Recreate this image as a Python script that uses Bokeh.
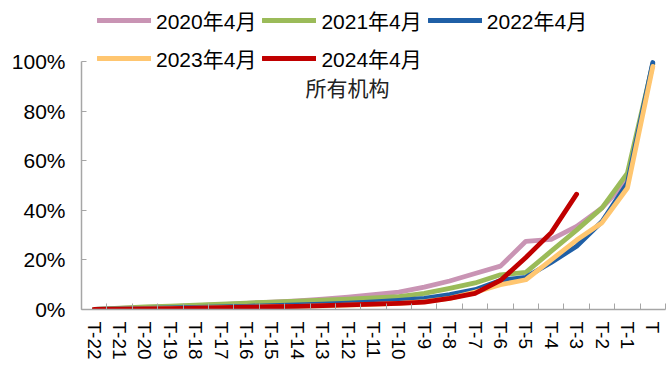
from bokeh.plotting import figure
from bokeh.models import (FixedTicker, NumeralTickFormatter, Legend, LegendItem, Label, Range1d)
from bokeh.embed import file_html
from bokeh.resources import INLINE

categories = ["T-22", "T-21", "T-20", "T-19", "T-18", "T-17", "T-16", "T-15", "T-14", "T-13",
              "T-12", "T-11", "T-10", "T-9", "T-8", "T-7", "T-6", "T-5", "T-4", "T-3",
              "T-2", "T-1", "T"]

s2020 = [0, 0.004, 0.008, 0.012, 0.016, 0.02, 0.025, 0.03, 0.035, 0.042, 0.05, 0.06, 0.07,
         0.09, 0.115, 0.145, 0.175, 0.275, 0.283, 0.335, 0.41, 0.52, 0.99]
s2021 = [0, 0.005, 0.01, 0.014, 0.018, 0.022, 0.026, 0.03, 0.034, 0.038, 0.042, 0.047, 0.052,
         0.065, 0.085, 0.107, 0.14, 0.15, 0.235, 0.32, 0.41, 0.55, 0.99]
s2022 = [0, 0.002, 0.004, 0.006, 0.008, 0.01, 0.013, 0.016, 0.019, 0.022, 0.026, 0.031, 0.037,
         0.045, 0.06, 0.08, 0.117, 0.13, 0.19, 0.255, 0.355, 0.51, 0.996]
s2023 = [0, 0.001, 0.002, 0.003, 0.005, 0.007, 0.009, 0.011, 0.013, 0.015, 0.018, 0.021, 0.025,
         0.032, 0.045, 0.07, 0.1, 0.12, 0.2, 0.28, 0.35, 0.49, 0.98]
s2024 = [0, 0.001, 0.002, 0.003, 0.005, 0.007, 0.009, 0.011, 0.013, 0.016, 0.019, 0.022, 0.025,
         0.03, 0.045, 0.065, 0.117, 0.21, 0.31, 0.465]

series_names = ["2020年4月", "2021年4月", "2022年4月", "2023年4月", "2024年4月"]
series_values = [s2020, s2021, s2022, s2023, s2024]
colors = ["#C994B4", "#9BBB59", "#1F5FA6", "#FFC670", "#C00000"]

y_ticks = [0, 0.2, 0.4, 0.6, 0.8, 1.0]
title_text = "所有机构"

FONT = "'Liberation Sans', 'Noto Sans CJK SC', sans-serif"

p = figure(width=670, height=367, output_backend="svg", toolbar_location=None,
           x_range=Range1d(-0.5, 22.5), y_range=Range1d(0, 1.246),
           min_border_left=81, min_border_right=5, min_border_top=0, min_border_bottom=58)
p.outline_line_color = None
p.xgrid.visible = False
p.ygrid.visible = False
p.background_fill_color = "white"
p.border_fill_color = "white"

renderers = []
for name, vals, c in zip(series_names, series_values, colors):
    xs = list(range(len(vals)))
    r = p.line(xs, vals, line_color=c, line_width=4.8, line_join="round", line_cap="round")
    renderers.append(r)

# x axis
xa = p.xaxis[0]
xa.ticker = FixedTicker(ticks=list(range(len(categories))),
                        minor_ticks=[i + 0.5 for i in range(-1, len(categories))])
xa.major_label_overrides = {i: c for i, c in enumerate(categories)}
xa.major_label_orientation = "vertical"
xa.major_tick_in = 0
xa.major_tick_out = 0
xa.minor_tick_in = 6
xa.minor_tick_out = 0
xa.minor_tick_line_color = "#A6A6A6"
xa.axis_line_color = "#A6A6A6"
xa.axis_line_width = 1.5
xa.major_label_text_font = FONT
xa.major_label_text_font_size = "19px"
xa.major_label_text_color = "#000000"
xa.major_label_standoff = 12

# y axis
ya = p.yaxis[0]
ya.ticker = FixedTicker(ticks=y_ticks)
ya.formatter = NumeralTickFormatter(format="0%")
ya.bounds = (0, 1.0)
ya.major_tick_in = 5
ya.major_tick_out = 0
ya.minor_tick_in = 0
ya.minor_tick_out = 0
ya.major_tick_line_color = "#A6A6A6"
ya.axis_line_color = "#A6A6A6"
ya.axis_line_width = 1.5
ya.major_label_text_font = FONT
ya.major_label_text_font_size = "21px"
ya.major_label_text_color = "#000000"
ya.major_label_standoff = 16

legend = Legend(items=[LegendItem(label=n, renderers=[r]) for n, r in zip(series_names, renderers)],
                location=(16, 235), orientation="horizontal", ncols=3,
                glyph_width=54, glyph_height=32, label_height=32, label_width=100,
                label_standoff=5, spacing=6, padding=0, margin=0,
                label_text_font=FONT, label_text_font_size="21px", label_text_color="#000000",
                background_fill_alpha=0, border_line_color=None)
p.add_layout(legend, "center")

lbl = Label(x=9.98, y=0.891, text=title_text, text_align="center", text_baseline="middle",
            text_font=FONT, text_font_size="21px", text_color="#222222")
p.add_layout(lbl)

open("out.html", "w").write(file_html(p, INLINE))
